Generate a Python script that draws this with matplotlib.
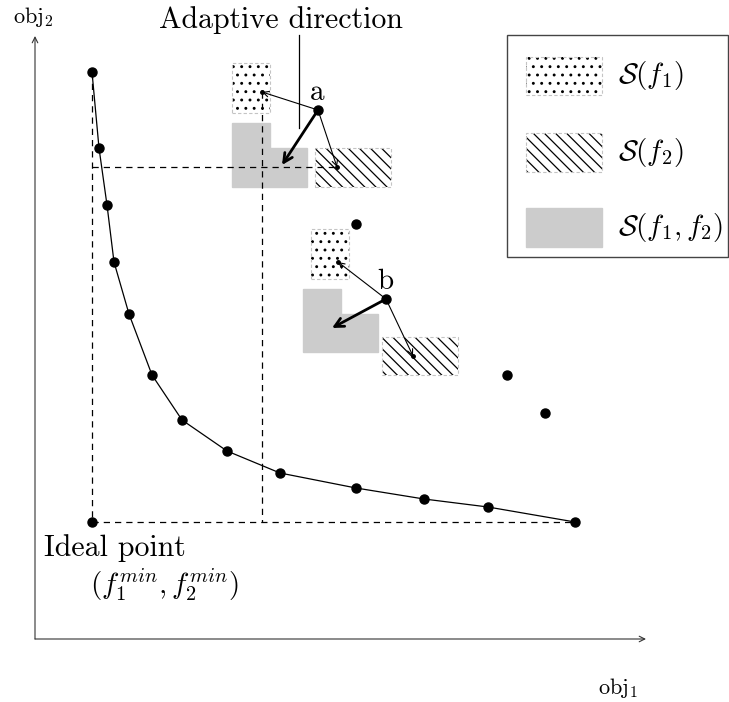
import matplotlib
matplotlib.use("Agg")
import matplotlib.pyplot as plt
from matplotlib.patches import Rectangle, Polygon

plt.rcParams['mathtext.fontset'] = 'cm'
plt.rcParams['font.family'] = ['cmr10', 'DejaVu Serif']
plt.rcParams['axes.unicode_minus'] = False
plt.rcParams['hatch.linewidth'] = 0.9

# Pareto front (obj1, obj2)
front_x = [57, 64, 72, 79, 94, 117, 147, 192, 245, 321, 389, 453, 540]
front_y = [567, 491, 434, 377, 325, 264, 219, 188, 166, 151, 140, 132, 117]

# dominated solutions
other_x = [321, 472, 510]
other_y = [415, 264, 226]

ideal = (57, 117)

# solutions a and b with their neighbourhoods
sol_names = ['a', 'b']
sol_x = [283, 351]
sol_y = [529, 340]
# boxes as (x0, x1, y0, y1)
box_f1 = [(197, 235, 526, 576), (276, 314, 360, 410)]
box_f2 = [(280, 356, 452, 491), (347, 423, 264, 302)]
# L-shaped S(f1,f2): lower block and upper-left block
box_f12_low = [(197, 272, 452, 491), (268, 343, 287, 325)]
box_f12_up = [(197, 235, 491, 516), (268, 306, 325, 350)]
# arrow targets
best_f1 = [(227, 547), (303, 377)]
best_f2 = [(302, 472), (378, 283)]
adaptive = [(247, 474), (297, 311)]

legend_labels = [r'$\mathcal{S}(f_1)$', r'$\mathcal{S}(f_2)$', r'$\mathcal{S}(f_1,f_2)$']

fig = plt.figure(figsize=(7.29, 7.02), dpi=100)
ax = fig.add_axes([0, 0, 1, 1])
ax.set_xlim(-35, 694)
ax.set_ylim(-63, 639)
ax.axis('off')

dash = (0, (5, 4))
gray = '#cccccc'
dots = '..'
lines = '\\\\\\'


def hatched_box(x0, x1, y0, y1, hatch, z=2):
    ax.add_patch(Rectangle((x0, y0), x1 - x0, y1 - y0, facecolor='white',
                           edgecolor='black', hatch=hatch, lw=0, zorder=z))
    ax.add_patch(Rectangle((x0, y0), x1 - x0, y1 - y0, facecolor='none',
                           edgecolor='#c4c4c4', lw=0.8, ls=(0, (3, 2)), zorder=z))


def l_shape(low, up):
    x0, x1, y0, y1 = low
    ux0, ux1, uy0, uy1 = up
    verts = [(x0, y0), (x1, y0), (x1, y1), (ux1, y1), (ux1, uy1), (ux0, uy1), (ux0, y1), (x0, y1)]
    ax.add_patch(Polygon(verts, closed=True, facecolor=gray, edgecolor=gray, lw=1, zorder=1))


# axes arrows
ax.annotate('', xy=(611, 0), xytext=(0, 0),
            arrowprops=dict(arrowstyle='->', lw=0.8, color='#333333', shrinkA=0, shrinkB=0))
ax.annotate('', xy=(0, 603), xytext=(0, 0),
            arrowprops=dict(arrowstyle='->', lw=0.8, color='#333333', shrinkA=0, shrinkB=0))
ax.text(583, -49, r'$\mathrm{obj}_1$', fontsize=16, ha='center', va='center')
ax.text(-2, 622, r'$\mathrm{obj}_2$', fontsize=16, ha='center', va='center')

# ideal point projection lines
ax.plot([front_x[0], ideal[0]], [front_y[0], ideal[1]], color='black', lw=0.9, ls=dash, zorder=3)
ax.plot([ideal[0], front_x[-1]], [ideal[1], front_y[-1]], color='black', lw=0.9, ls=dash, zorder=3)

# neighbourhoods
for i in range(len(sol_names)):
    l_shape(box_f12_low[i], box_f12_up[i])
    hatched_box(*box_f1[i], hatch=dots)
    hatched_box(*box_f2[i], hatch=lines)

# projection of a's best-f1 and best-f2 neighbours
ax.plot([best_f1[0][0], best_f1[0][0]], [best_f1[0][1], ideal[1]], color='black', lw=0.9, ls=dash, zorder=3)
ax.plot([ideal[0], best_f2[0][0]], [best_f2[0][1], best_f2[0][1]], color='black', lw=0.9, ls=dash, zorder=3)

# front
ax.plot(front_x, front_y, color='black', lw=0.9, marker='o', ms=6.5, zorder=4)
ax.plot(other_x, other_y, ls='none', color='black', marker='o', ms=6.5, zorder=4)
ax.plot([ideal[0]], [ideal[1]], ls='none', color='black', marker='o', ms=6.5, zorder=4)

# arrows
for i, name in enumerate(sol_names):
    s = (sol_x[i], sol_y[i])
    for tgt in (best_f1[i], best_f2[i]):
        ax.annotate('', xy=tgt, xytext=s,
                    arrowprops=dict(arrowstyle='->', lw=0.8, color='black', shrinkA=0, shrinkB=0), zorder=5)
        ax.plot([tgt[0]], [tgt[1]], 'o', color='black', ms=2.5, zorder=5)
    ax.annotate('', xy=adaptive[i], xytext=s,
                arrowprops=dict(arrowstyle='->', lw=2, color='black', shrinkA=0, shrinkB=0,
                                mutation_scale=16), zorder=5)
    ax.plot([s[0]], [s[1]], 'o', color='black', ms=6.5, zorder=6)
    ax.text(s[0] - 1, s[1] + 17, name, fontsize=21, ha='center', va='center', zorder=6)

# annotation
ax.text(246, 619, 'Adaptive direction', fontsize=21.5, ha='center', va='center')
ax.plot([264, 264], [604, 511], color='black', lw=0.9)
ax.text(9, 91, 'Ideal point', fontsize=21.5, ha='left', va='center')
ax.text(55, 54, r'$(f_1^{min}, f_2^{min})$', fontsize=21, ha='left', va='center')

# legend
ax.add_patch(Rectangle((472, 382), 221, 222, facecolor='white', edgecolor='#444444', lw=1, zorder=6))
leg_y = [(544, 582), (467, 506), (392, 431)]
hatches = [dots, lines, None]
for lab, (y0, y1), h in zip(legend_labels, leg_y, hatches):
    if h is None:
        ax.add_patch(Rectangle((491, y0), 76, y1 - y0, facecolor=gray, edgecolor=gray, lw=1, zorder=7))
    else:
        hatched_box(491, 567, y0, y1, h, z=7)
    ax.text(583, (y0 + y1) / 2, lab, fontsize=21, ha='left', va='center', zorder=8)

fig.savefig('out.png', dpi=100)
